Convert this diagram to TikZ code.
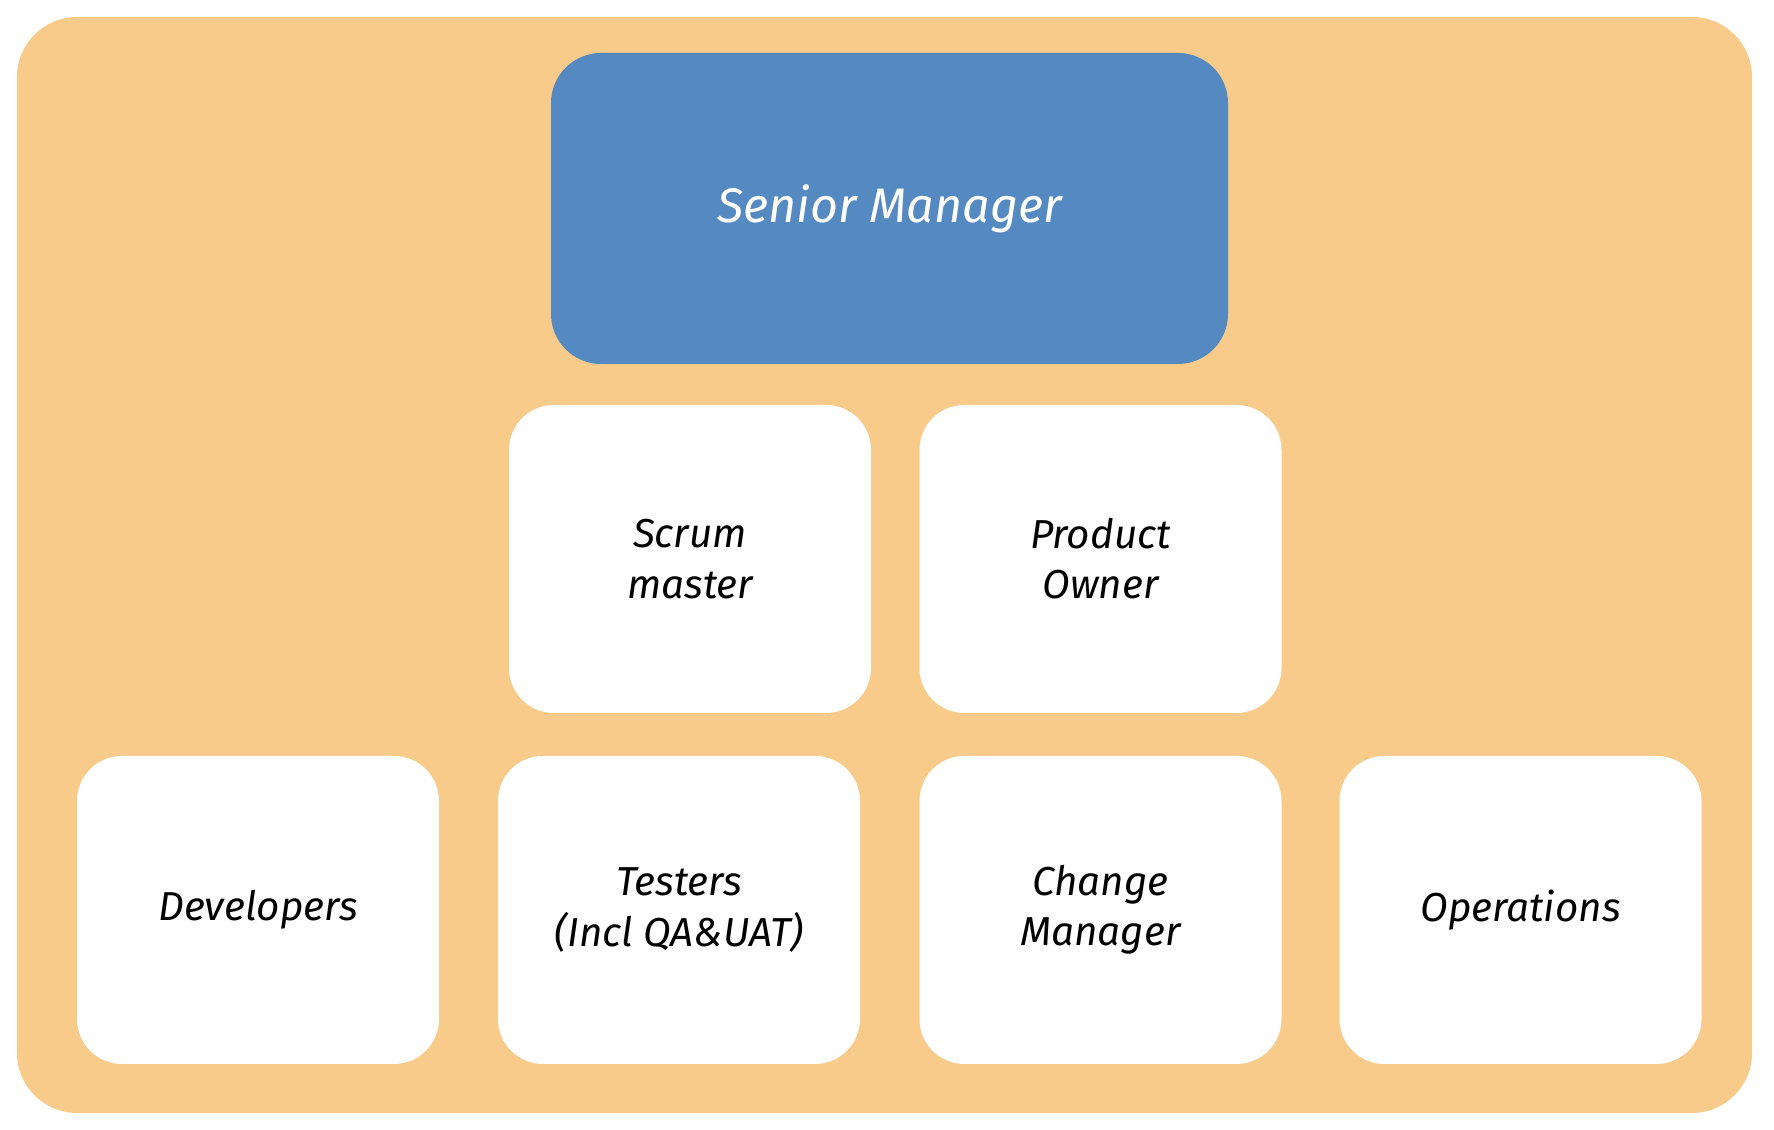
\documentclass[tikz,border=0pt]{standalone}
\usepackage{fontspec}
\setmainfont{Fira Sans}
\usetikzlibrary{positioning}
\definecolor{sand}{HTML}{F8CB8A}
\definecolor{steel}{HTML}{5589C2}
\tikzset{
back box/.style={rectangle,rounded corners=0.6cm,fill=sand,minimum width=17.35cm,minimum height=10.96cm},
boss box/.style={rectangle,rounded corners=0.5cm,fill=steel,text=white,minimum width=6.77cm,minimum height=3.11cm,font=\itshape\fontsize{13.8}{16.5}\selectfont},
role box/.style={rectangle,rounded corners=0.45cm,fill=white,minimum width=3.62cm,minimum height=3.08cm,align=center,font=\itshape\fontsize{11.5}{14.3}\selectfont}}

\begin{document}
\begin{tikzpicture}
\useasboundingbox (0,0) rectangle (17.74,11.3);
\node[back box] (back) at (8.845,5.65) {};

\node[boss box] (senior) at (8.895,9.215) {Senior Manager};

\node[role box] (scrum) at (6.90,5.71) {Scrum\\master};
\node[role box] (owner) at (11.005,5.71) {Product\\Owner};

\node[role box] (dev) at (2.58,2.20) {Developers};
\node[role box] (test) at (6.79,2.20) {Testers\\(Incl QA\&UAT)};
\node[role box] (change) at (11.005,2.20) {Change\\Manager};
\node[role box] (ops) at (15.205,2.20) {Operations};
\end{tikzpicture}
\end{document}
